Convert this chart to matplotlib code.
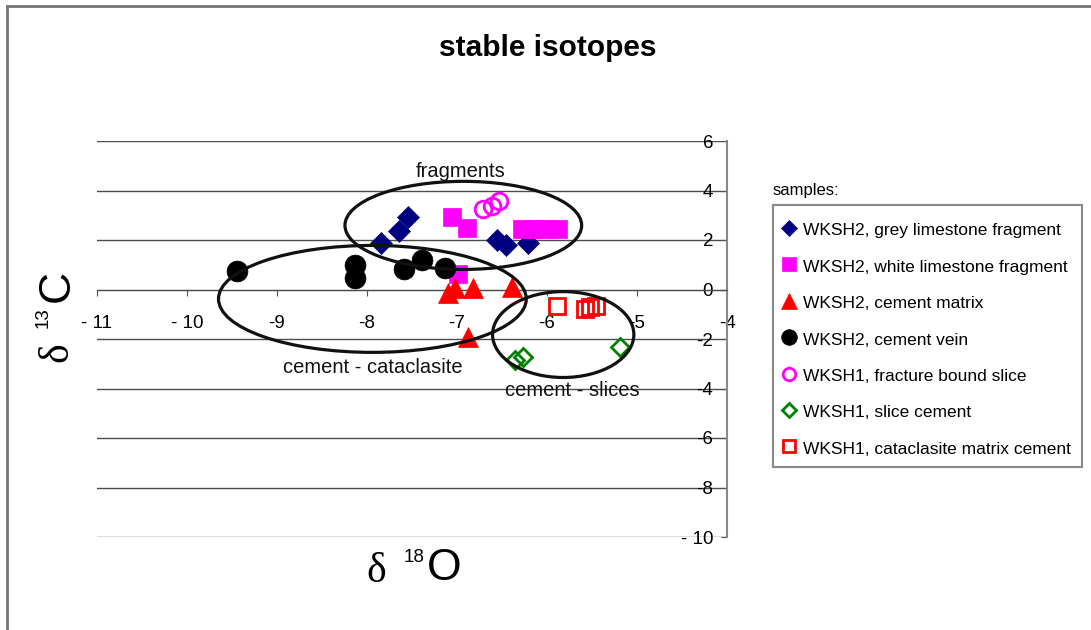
import matplotlib
matplotlib.use("Agg")
import matplotlib.pyplot as plt
from matplotlib.lines import Line2D
from matplotlib.patches import Ellipse, Rectangle

plt.rcParams["font.family"] = ["Liberation Sans", "DejaVu Sans"]

# d18O / d13C values per sample group
GREY_FRAG_X = [-7.84, -7.64, -7.54, -6.56, -6.46, -6.21]
GREY_FRAG_Y = [1.89, 2.36, 2.94, 2.02, 1.78, 1.86]

WHITE_FRAG_X = [-7.06, -6.89, -6.99, -6.28, -6.15, -6.02, -5.88]
WHITE_FRAG_Y = [2.94, 2.49, 0.61, 2.46, 2.46, 2.46, 2.46]

MATRIX_X = [-7.10, -7.02, -6.82, -6.39, -6.88]
MATRIX_Y = [-0.16, 0.08, 0.08, 0.12, -1.90]

VEIN_X = [-9.44, -8.13, -8.13, -7.59, -7.39, -7.13]
VEIN_Y = [0.74, 1.01, 0.47, 0.84, 1.21, 0.85]

FRACTURE_X = [-6.71, -6.61, -6.53]
FRACTURE_Y = [3.27, 3.39, 3.56]

SLICE_CEM_X = [-6.36, -6.27, -5.19]
SLICE_CEM_Y = [-2.83, -2.71, -2.34]

CATA_CEM_X = [-5.89, -5.58, -5.52, -5.46]
CATA_CEM_Y = [-0.65, -0.77, -0.69, -0.65]

# outlined groups
GROUP_LABELS = ["fragments", "cement - cataclasite", "cement - slices"]
GROUP_CX = [-6.93, -7.94, -5.82]
GROUP_CY = [2.59, -0.38, -1.82]
GROUP_W = [2.63, 3.42, 1.57]
GROUP_H = [3.56, 4.32, 3.47]
GROUP_TEXT_X = [-6.96, -7.94, -5.72]
GROUP_TEXT_Y = [4.77, -3.15, -4.08]

X_TICKS = [-11, -10, -9, -8, -7, -6, -5, -4]
X_TICK_LABELS = ["- 11", "- 10", "-9", "-8", "-7", "-6", "-5", "-4"]
Y_TICKS = [6, 4, 2, 0, -2, -4, -6, -8, -10]
Y_TICK_LABELS = ["6", "4", "2", "0", "-2", "-4", "-6", "-8", "- 10"]

SERIES = [
    ("WKSH2, grey limestone fragment", GREY_FRAG_X, GREY_FRAG_Y, "D", "#000080", "#000080", 11),
    ("WKSH2, white limestone fragment", WHITE_FRAG_X, WHITE_FRAG_Y, "s", "#ff00ff", "#ff00ff", 13),
    ("WKSH2, cement matrix", MATRIX_X, MATRIX_Y, "^", "#ff0000", "#ff0000", 15),
    ("WKSH2, cement vein", VEIN_X, VEIN_Y, "o", "#000000", "#000000", 15),
    ("WKSH1, fracture bound slice", FRACTURE_X, FRACTURE_Y, "o", "none", "#ff00ff", 12),
    ("WKSH1, slice cement", SLICE_CEM_X, SLICE_CEM_Y, "D", "none", "#008000", 9),
    ("WKSH1, cataclasite matrix cement", CATA_CEM_X, CATA_CEM_Y, "s", "none", "#ff0000", 12),
]


def fx(px):
    return px / 1091


def fy(py):
    return 1 - py / 630


def main():
    fig = plt.figure(figsize=(10.91, 6.30), dpi=100)
    ax = fig.add_axes([fx(97), fy(537), 630 / 1091, 396 / 630])

    # figure frame (only top and left edges are visible)
    fig.add_artist(Line2D([fx(7), 1.0], [fy(5.5)] * 2, color="#777777", lw=2, transform=fig.transFigure))
    fig.add_artist(Line2D([fx(7)] * 2, [0, fy(5.5)], color="#777777", lw=2, transform=fig.transFigure))

    ax.set_xlim(-11, -4)
    ax.set_ylim(-10, 6)
    for y in Y_TICKS:
        ax.axhline(y, color="#4d4d4d", lw=1, zorder=0)

    for name in ["left", "top"]:
        ax.spines[name].set_visible(False)
    ax.spines["bottom"].set_position(("data", 0))
    ax.spines["bottom"].set_color("#4d4d4d")
    ax.spines["right"].set_color("#888888")
    ax.spines["right"].set_linewidth(1.5)

    ax.set_xticks(X_TICKS, X_TICK_LABELS)
    ax.tick_params(axis="x", direction="out", length=4, color="#555555", pad=14, labelsize=13.5)
    ax.yaxis.tick_right()
    ax.set_yticks(Y_TICKS, Y_TICK_LABELS)
    ax.tick_params(axis="y", direction="in", length=4, color="#555555", pad=-10, labelsize=13.5)
    for label in ax.get_yticklabels():
        label.set_horizontalalignment("right")

    handles = []
    for label, xs, ys, marker, face, edge, size in SERIES:
        (h,) = ax.plot(xs, ys, linestyle="none", marker=marker, markersize=size,
                       markerfacecolor=face, markeredgecolor=edge, markeredgewidth=2 if face == "none" else 0.5,
                       label=label, zorder=3)
        handles.append(h)

    for cx, cy, w, h, tx, ty, text in zip(GROUP_CX, GROUP_CY, GROUP_W, GROUP_H, GROUP_TEXT_X, GROUP_TEXT_Y, GROUP_LABELS):
        ax.add_patch(Ellipse((cx, cy), w, h, fill=False, edgecolor="#111111", lw=2.3, zorder=4))
        ax.text(tx, ty, text, ha="center", va="center", fontsize=14.5, color="#111111", zorder=5)

    fig.text(fx(548), fy(48), "stable isotopes", ha="center", va="center", fontsize=21.5, fontweight="bold")

    # axis titles built from pieces so the superscript stays small
    fig.text(fx(376), fy(572), "δ", ha="center", va="center", fontsize=30, family="Liberation Serif")
    fig.text(fx(414), fy(558), "18", ha="center", va="center", fontsize=13.5)
    fig.text(fx(444), fy(569), "O", ha="center", va="center", fontsize=32)
    fig.text(fx(57), fy(352), "δ", ha="center", va="center", fontsize=30, rotation=90, family="Liberation Serif")
    fig.text(fx(43), fy(318), "13", ha="center", va="center", fontsize=13.5, rotation=90)
    fig.text(fx(57), fy(286), "C", ha="center", va="center", fontsize=32, rotation=90)

    # legend with a separately drawn frame
    fig.text(fx(773), fy(190), "samples:", ha="left", va="center", fontsize=12)
    fig.add_artist(Rectangle((fx(773), fy(467)), fx(1082) - fx(773), fy(205) - fy(467), fill=False,
                             edgecolor="#888888", lw=1.5, transform=fig.transFigure))
    fig.legend(handles=handles, loc="upper left", bbox_to_anchor=(fx(773), fy(212)),
               bbox_transform=fig.transFigure, borderaxespad=0, fontsize=12.5, markerscale=0.75,
               handlelength=0.8, handleheight=1.2, handletextpad=0.42, labelspacing=1.07, borderpad=0.5,
               frameon=False)

    fig.savefig("out.png", dpi=100)
    plt.close(fig)


if __name__ == "__main__":
    main()
